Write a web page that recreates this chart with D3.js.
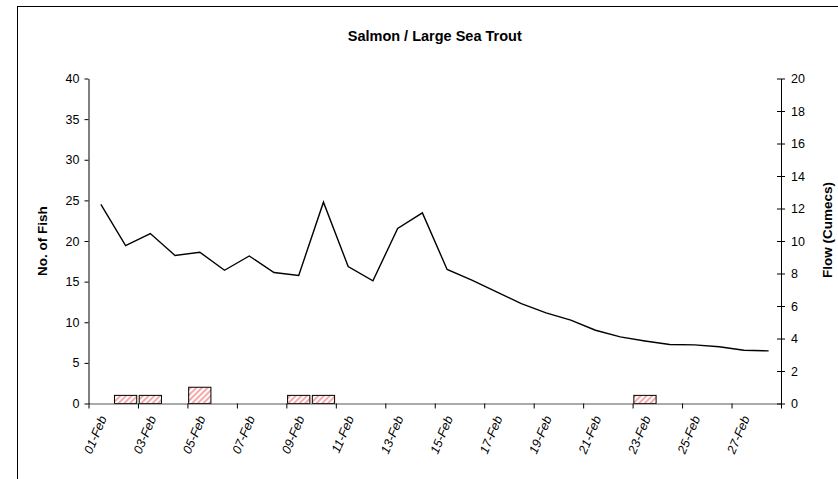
<!DOCTYPE html>
<html><head><meta charset="utf-8">
<script src="https://cdn.jsdelivr.net/npm/d3@7"></script>
<style>
html,body{margin:0;padding:0;background:#fff;}
svg{display:block;font-family:"Liberation Sans",Arial,sans-serif;}
</style></head>
<body>
<svg id="chart" width="838" height="479"></svg>
<script>
const days = ["01-Feb","02-Feb","03-Feb","04-Feb","05-Feb","06-Feb","07-Feb","08-Feb","09-Feb","10-Feb",
  "11-Feb","12-Feb","13-Feb","14-Feb","15-Feb","16-Feb","17-Feb","18-Feb","19-Feb","20-Feb",
  "21-Feb","22-Feb","23-Feb","24-Feb","25-Feb","26-Feb","27-Feb","28-Feb"];
const fishCounts = [0,1,1,0,2,0,0,0,1,1,0,0,0,0,0,0,0,0,0,0,0,0,1,0,0,0,0,0];
const flowCumecs = [12.25,9.72,10.46,9.11,9.31,8.2,9.08,8.06,7.88,12.39,8.43,7.55,10.77,11.73,8.25,7.59,
  6.87,6.15,5.58,5.13,4.51,4.1,3.85,3.63,3.61,3.49,3.28,3.24];
const leftTicks = [0,5,10,15,20,25,30,35,40];
const rightTicks = [0,2,4,6,8,10,12,14,16,18,20];
const titleText = "Salmon / Large Sea Trout";
const leftTitle = "No. of Fish";
const rightTitle = "Flow (Cumecs)";

const svg = d3.select("#chart");
const L = 88.5, R = 781, T = 78.5, B = 403.5;
const FONT = "Liberation Sans, Arial, sans-serif";

// outer border
svg.append("rect").attr("x",17.5).attr("y",6.5).attr("width",830).attr("height",480)
  .attr("fill","none").attr("stroke","#000").attr("stroke-width",1);

// hatch pattern
const defs = svg.append("defs");
const pat = defs.append("pattern").attr("id","hatch").attr("patternUnits","userSpaceOnUse")
  .attr("width",4).attr("height",4).attr("patternTransform","rotate(45)");
pat.append("rect").attr("width",4).attr("height",4).attr("fill","#fff");
pat.append("rect").attr("width",2).attr("height",4).attr("fill","#f6a9a9");

const x = d3.scaleBand().domain(days).range([L, R]).padding(0);
const xi = d3.scaleLinear().domain([0, days.length]).range([L, R]);
const yL = d3.scaleLinear().domain([0,40]).range([B, T]);
const yR = d3.scaleLinear().domain([0,20]).range([B, T]);

// title
svg.append("text").attr("x",(L+R)/2).attr("y",41).attr("text-anchor","middle")
  .attr("font-size",14.5).attr("font-weight","bold").text(titleText);

// bars
const bw = x.bandwidth()*0.9;
svg.append("g").selectAll("rect").data(days.map((d,i)=>({d, v:fishCounts[i]})).filter(o=>o.v>0))
  .join("rect")
  .attr("x",o=>x(o.d)+(x.bandwidth()-bw)/2)
  .attr("y",o=>yL(o.v))
  .attr("width",bw)
  .attr("height",o=>yL(0)-yL(o.v))
  .attr("fill","url(#hatch)").attr("stroke","#000").attr("stroke-width",1);

// x axis baseline and ticks
const gx = svg.append("g").attr("transform",`translate(0,${B})`);
gx.call(d3.axisBottom(xi).tickValues(d3.range(0, days.length+1, 2)).tickFormat("").tickSize(5).tickSizeOuter(0));
gx.select(".domain").attr("stroke","#555");
gx.selectAll(".tick line").attr("stroke","#000");

// x labels
svg.append("g").selectAll("text").data(days.filter((d,i)=>i%2===0)).join("text")
  .attr("transform",d=>`translate(${x(d)+x.bandwidth()/2+2},${B+13}) rotate(-67)`)
  .attr("text-anchor","end").attr("font-size",12.5).attr("font-style","italic").attr("dy","0.35em").text(d=>d);

// left axis
const gl = svg.append("g").attr("transform",`translate(${L},0)`);
gl.call(d3.axisLeft(yL).tickValues(leftTicks).tickSize(4).tickSizeOuter(0).tickPadding(5));
gl.selectAll("text").attr("font-size",12.5).attr("font-family",FONT).attr("fill","#000");

// right axis
const gr = svg.append("g").attr("transform",`translate(${R},0)`);
gr.call(d3.axisRight(yR).tickValues(rightTicks).tickSize(4).tickSizeOuter(0).tickPadding(6));
gr.selectAll(".tick line").attr("x1",-4);
gr.selectAll("text").attr("font-size",12.5).attr("font-family",FONT).attr("fill","#000");

// flow line
const line = d3.line().x((v,i)=>x(days[i])+x.bandwidth()/2).y(v=>yR(v));
svg.append("path").datum(flowCumecs).attr("d",line).attr("fill","none")
  .attr("stroke","#000").attr("stroke-width",1.4);

// axis titles
svg.append("text").attr("transform",`translate(47,${(T+B)/2}) rotate(-90)`).attr("text-anchor","middle")
  .attr("font-size",13.5).attr("font-weight","bold").text(leftTitle);
svg.append("text").attr("transform",`translate(832,230) rotate(-90)`).attr("text-anchor","middle")
  .attr("font-size",13.5).attr("font-weight","bold").text(rightTitle);
</script>
</body></html>
